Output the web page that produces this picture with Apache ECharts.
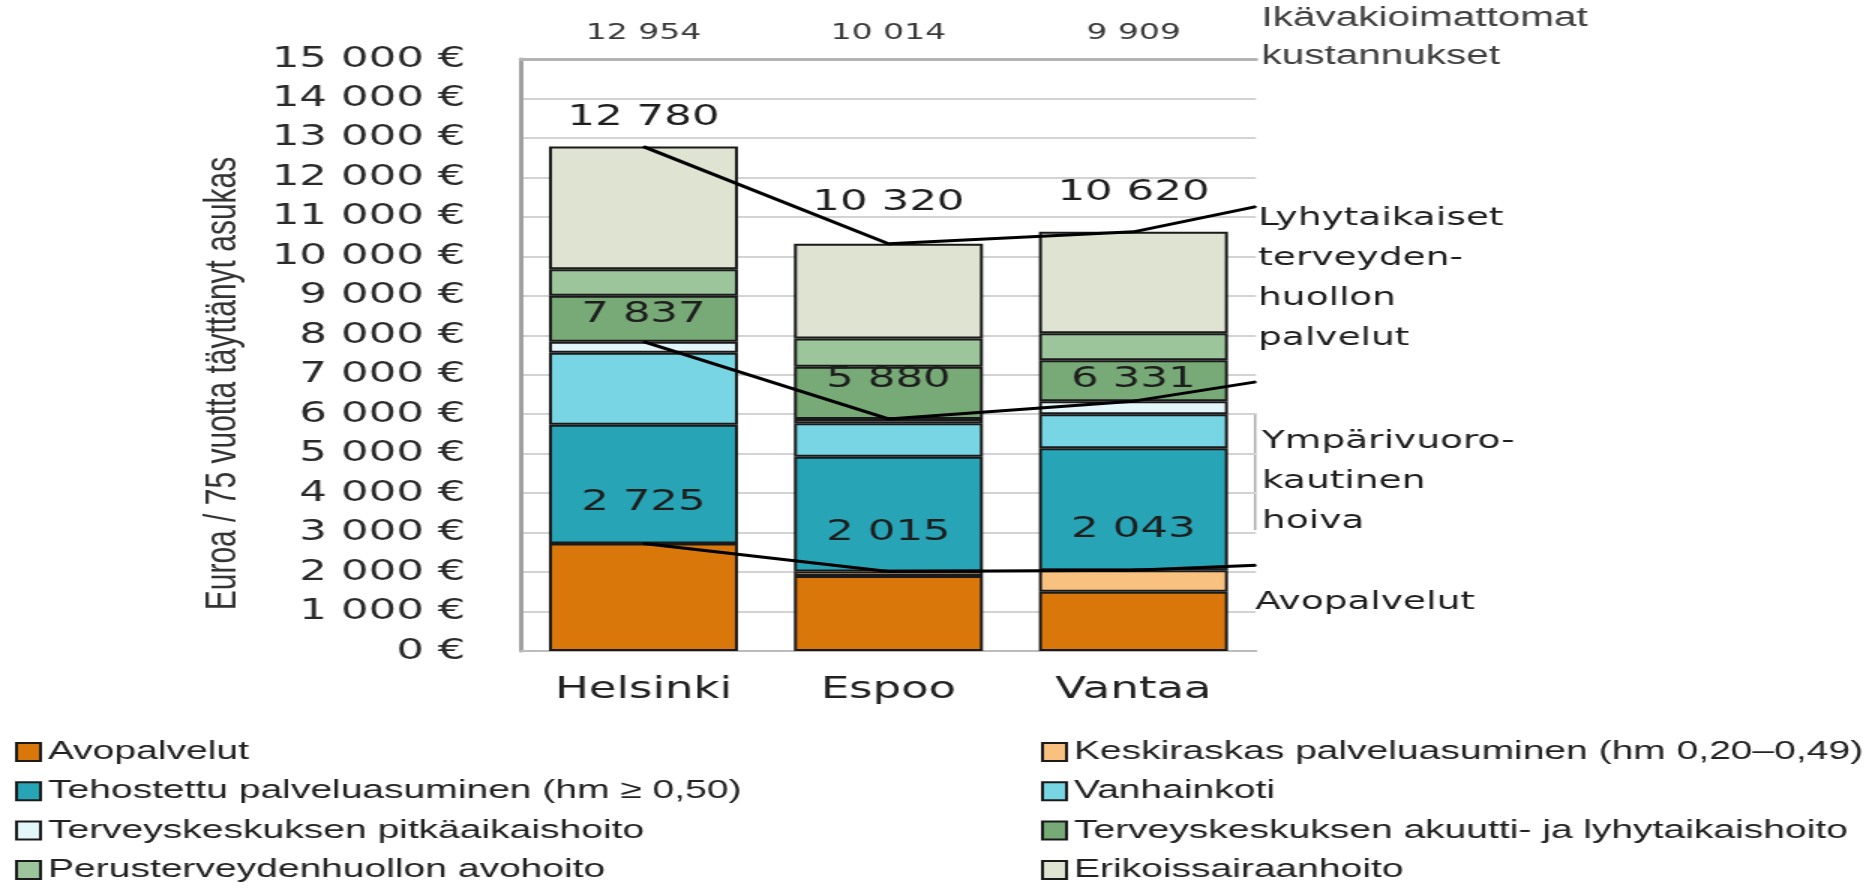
<!DOCTYPE html>
<html>
<head>
<meta charset="utf-8">
<script src="https://cdn.jsdelivr.net/npm/echarts@6/dist/echarts.min.js"></script>
<style>
html, body { margin: 0; padding: 0; background: #fff; overflow: hidden; }
/* the source picture is stretched sideways, so the chart is too */
#container { width: 1246px; height: 889px; transform: scaleX(1.5); transform-origin: 0 0; }
</style>
</head>
<body>
<div id="container"></div>
<script>
let cities = ['Helsinki', 'Espoo', 'Vantaa'];
let unadjusted = [12954, 10014, 9909];

// stack segments, bottom to top (euro / 75+ resident)
let avopalvelut = [2725, 1900, 1500];
let keskiraskas = [0, 115, 543];
let tehostettu = [3005, 2905, 3097];
let vanhainkoti = [1830, 850, 860];
let pitkaaikais = [277, 110, 331];
let akuutti = [1163, 1320, 1039];
let perus = [670, 720, 680];
let erikois = [3110, 2400, 2570];

// cumulative levels joined by the black lines, and where each line leaves the plot
let totalLevel = [12780, 10320, 10620];
let hoivaLevel = [7837, 5880, 6331];
let avoLevel = [2725, 2015, 2043];
let lineEnds = [11260, 6820, 2170];

let seriesNames = [
  'Avopalvelut',
  'Keskiraskas palveluasuminen (hm 0,20–0,49)',
  'Tehostettu palveluasuminen (hm ≥ 0,50)',
  'Vanhainkoti',
  'Terveyskeskuksen pitkäaikaishoito',
  'Terveyskeskuksen akuutti- ja lyhytaikaishoito',
  'Perusterveydenhuollon avohoito',
  'Erikoissairaanhoito'
];
let seriesData = [avopalvelut, keskiraskas, tehostettu, vanhainkoti, pitkaaikais, akuutti, perus, erikois];
let colors = ['#d9770b', '#f9c17f', '#27a5b7', '#78d6e4', '#e3f6f9', '#77aa77', '#9dc59c', '#dee3d2'];

function fmt(v) {
  return String(v).replace(/\B(?=(\d{3})+(?!\d))/g, ' ');
}

const NUM_FONT = 'DejaVu Sans';
const TXT_FONT = 'Liberation Sans';

let barSeries = seriesNames.map(function (name, i) {
  return {
    name: name,
    type: 'bar',
    stack: 'kulut',
    barWidth: 126,
    data: seriesData[i],
    itemStyle: { color: colors[i], borderColor: '#1a1a1a', borderWidth: 2 },
    silent: true
  };
});

// label gap above each line point (px), they sit a little unevenly in the source
let labelGap = {
  total: [14, 26, 24],
  hoiva: [12, 24, 6],
  avo: [25, 24, 25]
};

function levelLine(levels, end, gaps) {
  let pts = levels.map(function (v, i) {
    return { value: [i, v], label: { show: true, distance: gaps[i] } };
  });
  pts.push({ value: [cities.length - 0.5, end], label: { show: false } });
  return {
    type: 'line',
    xAxisIndex: 2,
    data: pts,
    symbol: 'circle',
    symbolSize: 1,
    showSymbol: true,
    itemStyle: { color: '#000' },
    lineStyle: { color: '#000', width: 3 },
    label: {
      show: true,
      position: 'top',
      fontFamily: NUM_FONT,
      fontSize: 29,
      lineHeight: 30,
      color: '#1e1e1e',
      formatter: function (p) { return fmt(p.value[1]); }
    },
    labelLayout: { hideOverlap: false },
    z: 5,
    silent: true
  };
}

let legendText = { fontFamily: TXT_FONT, fontSize: 26, lineHeight: 26, color: '#222' };

let option = {
  animation: false,
  color: colors,
  grid: { left: 347.3, right: 408.7, top: 59, bottom: 238 },
  legend: [
    {
      orient: 'vertical', left: 10, top: 739, padding: 0,
      itemWidth: 16, itemHeight: 18, itemGap: 13.3,
      icon: 'rect',
      data: [seriesNames[0], seriesNames[2], seriesNames[4], seriesNames[6]],
      textStyle: legendText
    },
    {
      orient: 'vertical', left: 694, top: 739, padding: 0,
      itemWidth: 16, itemHeight: 18, itemGap: 13.3,
      icon: 'rect',
      data: [seriesNames[1], seriesNames[3], seriesNames[5], seriesNames[7]],
      textStyle: legendText
    }
  ],
  xAxis: [
    {
      type: 'category',
      data: cities,
      axisLine: { show: true, lineStyle: { color: '#bdbdbd', width: 2 } },
      axisTick: { show: false },
      axisLabel: { margin: 24, fontFamily: NUM_FONT, fontSize: 30, color: '#222' }
    },
    {
      // top border of the plot and the age-unadjusted figures above it
      type: 'category',
      position: 'top',
      data: unadjusted.map(fmt),
      axisLine: { show: true, lineStyle: { color: '#b3b3b3', width: 3 } },
      axisTick: { show: false },
      axisLabel: { margin: 15, fontFamily: NUM_FONT, fontSize: 22, color: '#3a3a3a' }
    },
    { type: 'value', min: -0.5, max: cities.length - 0.5, show: false }
  ],
  yAxis: {
    type: 'value',
    min: 0,
    max: 15000,
    interval: 1000,
    axisLine: { show: true, onZero: false, lineStyle: { color: '#a0a0a0', width: 3 } },
    axisTick: { show: false },
    axisLabel: {
      margin: 37,
      fontFamily: NUM_FONT,
      fontSize: 29,
      color: '#2a2a2a',
      formatter: function (v) { return fmt(v) + ' €'; }
    },
    splitLine: { show: true, lineStyle: { color: '#d3d3d3', width: 2 } }
  },
  graphic: [
    {
      type: 'text', x: 148.7, y: 383.5, rotation: Math.PI / 2,
      style: {
        text: 'Euroa / 75 vuotta täyttänyt asukas',
        fontFamily: TXT_FONT, fontSize: 30, fill: '#333',
        align: 'center', verticalAlign: 'middle'
      }
    },
    {
      type: 'text', x: 841, y: 0,
      style: {
        text: 'Ikävakioimattomat\nkustannukset',
        fontFamily: TXT_FONT, fontSize: 27, lineHeight: 38, fill: '#404040',
        verticalAlign: 'top'
      }
    },
    {
      type: 'text', x: 838.7, y: 198,
      style: {
        text: 'Lyhytaikaiset\nterveyden-\nhuollon\npalvelut',
        fontFamily: NUM_FONT, fontSize: 25, lineHeight: 40, fill: '#1e1e1e',
        verticalAlign: 'top'
      }
    },
    {
      type: 'text', x: 841.3, y: 421,
      style: {
        text: 'Ympärivuoro-\nkautinen\nhoiva',
        fontFamily: NUM_FONT, fontSize: 25, lineHeight: 40, fill: '#1e1e1e',
        verticalAlign: 'top'
      }
    },
    {
      type: 'line',
      shape: { x1: 836.7, y1: 413, x2: 836.7, y2: 530 },
      style: { stroke: '#a8a8a8', lineWidth: 1.5 }
    },
    {
      type: 'text', x: 836.7, y: 582,
      style: {
        text: 'Avopalvelut',
        fontFamily: NUM_FONT, fontSize: 25, lineHeight: 40, fill: '#1e1e1e',
        verticalAlign: 'top'
      }
    }
  ],
  series: barSeries.concat([
    levelLine(totalLevel, lineEnds[0], labelGap.total),
    levelLine(hoivaLevel, lineEnds[1], labelGap.hoiva),
    levelLine(avoLevel, lineEnds[2], labelGap.avo)
  ])
};

let myChart = echarts.init(document.getElementById('container'));
myChart.setOption(option);
</script>
</body>
</html>
